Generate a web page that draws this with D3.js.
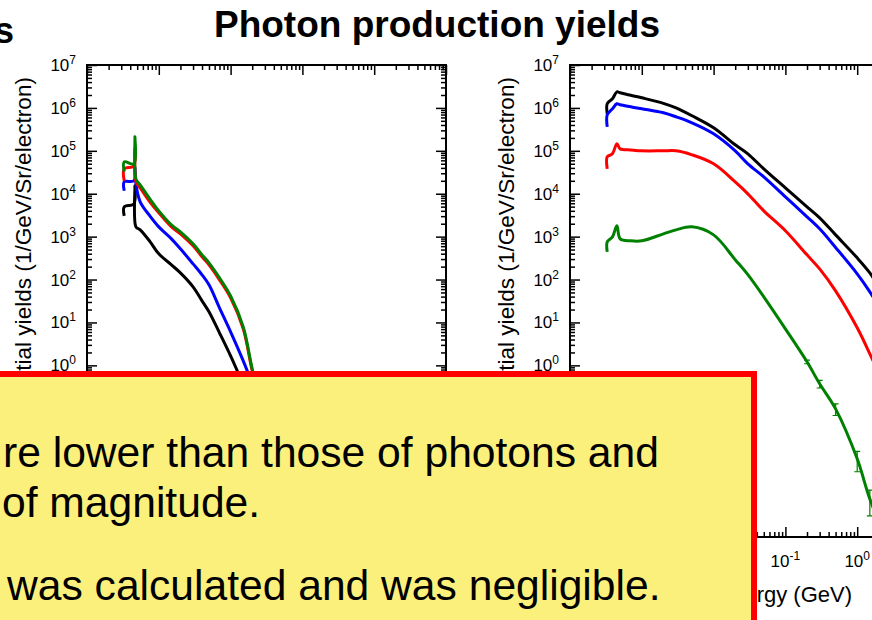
<!DOCTYPE html>
<html>
<head>
<meta charset="utf-8">
<script src="https://cdn.jsdelivr.net/npm/d3@7"></script>
<style>
    body { margin: 0; background: #fff; }
    svg { display: block; font-family: Arial, "Liberation Sans", sans-serif; }
</style>
</head>
<body>
<svg id="chart" width="872" height="620"></svg>
<script>
// ---- data ----
const xExponents = [-4, -3, -2, -1, 0, 1];
const yExponents = [-4, -3, -2, -1, 0, 1, 2, 3, 4, 5, 6, 7];

// left panel (GeV, 1/GeV/Sr/electron)
const leftEnergy = [3.3e-4, 3.3e-4, 4.5e-4, 4.65e-4, 4.8e-4, 5.5e-4, 7.5e-4, 1e-3, 1.5e-3, 2e-3, 3e-3, 4e-3, 5e-3, 7e-3, 1e-2, 1.5e-2, 2e-2, 3e-2];
const leftBlack = [3050, 4950, 5820, 15300, 1690, 1440, 777, 397, 220, 143, 67.6, 31.9, 17.7, 5.73, 1.66, 0.351, 0.108, 0.0194];
const leftBlue = [11700, 18900, 20000, 42400, 17000, 6470, 3050, 1690, 889, 520, 232, 129, 75.2, 21.9, 6.04, 1.27, 0.371, 0.0566];
const leftRed = [20000, 38000, 44700, 111000, 18900, 13700, 6470, 3590, 1690, 1160, 611, 338, 220, 98.4, 37.4, 7.1, 0.744, 0.0508];
const leftGreen = [32400, 55400, 49800, 212000, 22200, 16100, 7600, 3990, 1880, 1290, 679, 376, 245, 110, 41.7, 7.89, 0.83, 0.0566];

// right panel: photons
const photonEnergy = [3.3e-4, 3.3e-4, 3.9e-4, 4.5e-4, 5e-4, 7e-4, 1e-3, 2e-3, 3e-3, 5e-3, 1e-2, 2e-2, 3e-2, 5e-2, 0.1, 0.2, 0.3, 0.5, 1, 1.5, 2, 3, 5];
const photonBlack = [7.28e5, 1.25e6, 1.63e6, 2.37e6, 2.25e6, 1.97e6, 1.72e6, 1.28e6, 1.0e6, 6.55e5, 3.44e5, 1.38e5, 8.51e4, 3.8e4, 1.37e4, 4950, 2740, 1100, 320, 143, 67.6, 20.7, 3.17];
const photonBlue = [3.62e5, 6.9e5, 9.53e5, 1.25e6, 1.18e6, 1.06e6, 9.53e5, 7.69e5, 6.21e5, 4.5e5, 2.5e5, 1.0e5, 4.98e4, 2.48e4, 8470, 2900, 1520, 560, 136, 51.6, 23.1, 5.42, 0.633];
const photonRed = [3.8e4, 7.24e4, 8.51e4, 1.46e5, 1.11e5, 1.05e5, 1.0e5, 1.0e5, 1.0e5, 8.07e4, 4.98e4, 1.89e4, 9950, 3990, 1370, 376, 177, 54.5, 7.5, 1.85, 0.633, 0.0969, 0.00663];
const photonGreen = [442, 757, 989, 1790, 889, 798, 798, 1160, 1440, 1690, 1100, 290, 130, 39.5, 7.1, 1.21, 0.371, 0.0969, 0.00663, 7.73e-4, 2.64e-4, 1.55e-4, 1e-4];
const photonGreenErr = [0, 0, 0, 0, 0, 0, 0, 0, 0, 0, 0, 0, 0, 0, 0, 0.1, 0.2, 0.3, 0.5, 0.6, 0.7, 0.7, 0];

const colors = ["#000000", "#0000ff", "#ff0000", "#008000"];

const boxRight = 754, boxTop = 374;

let svg = d3.select("#chart");

function minorTicks(exps) {
    let out = [];
    exps.slice(0, -1).forEach(function(e) {
        for (let k = 2; k < 10; k++) out.push(k * Math.pow(10, e));
    });
    return out;
}

function supLabel(sel, exp) {
    sel.append("tspan").text("10");
    sel.append("tspan").attr("dy", -7).attr("font-size", 12).text(exp);
}

function drawPanel(id, x0, energy, series, xTitle) {
    let width = 359, top = 65, bottom = 537;
    let x = d3.scaleLog().domain([1e-4, 10]).range([x0, x0 + width]);
    let y = d3.scaleLog().domain([1e-4, 1e7]).range([bottom, top]);
    let g = svg.append("g");

    g.append("clipPath").attr("id", "clip-" + id)
        .append("rect").attr("x", x0).attr("y", top).attr("width", width).attr("height", bottom - top);

    let majorX = xExponents.map(e => Math.pow(10, e));
    let majorY = yExponents.map(e => Math.pow(10, e));

    // ticks on all four sides, pointing inwards
    let axes = [
        [d3.axisTop(x), `translate(0,${top})`, majorX, minorTicks(xExponents)],
        [d3.axisBottom(x), `translate(0,${bottom})`, majorX, minorTicks(xExponents)],
        [d3.axisLeft(y), `translate(${x0},0)`, majorY, minorTicks(yExponents)],
        [d3.axisRight(y), `translate(${x0 + width},0)`, majorY, minorTicks(yExponents)]
    ];
    axes.forEach(function(a) {
        let ax = g.append("g").attr("transform", a[1]);
        ax.append("g").call(a[0].tickValues(a[2]).tickSize(-10).tickSizeOuter(0).tickFormat(""));
        ax.append("g").call(a[0].tickValues(a[3]).tickSize(-5).tickSizeOuter(0).tickFormat(""));
        ax.selectAll(".domain").remove();
        ax.selectAll("line").attr("stroke", "#000").attr("stroke-width", 1.5);
    });

    g.append("rect")
        .attr("x", x0).attr("y", top).attr("width", width).attr("height", bottom - top)
        .attr("fill", "none").attr("stroke", "#000").attr("stroke-width", 2);

    // labels that would sit under the note box are not drawn
    yExponents.filter(e => y(Math.pow(10, e)) < boxTop).forEach(function(e) {
        g.append("text").attr("x", x0 - 11).attr("y", y(Math.pow(10, e)) + 6)
            .attr("text-anchor", "end").attr("font-size", 17)
            .call(supLabel, e);
    });
    xExponents.filter(e => x(Math.pow(10, e)) > boxRight + 12).forEach(function(e) {
        g.append("text").attr("x", x(Math.pow(10, e))).attr("y", 567)
            .attr("text-anchor", "middle").attr("font-size", 17)
            .call(supLabel, e);
    });

    g.append("text")
        .attr("transform", `translate(${x0 - 56},77) rotate(-90)`)
        .attr("text-anchor", "end").attr("font-size", 22.6)
        .text("Differential yields (1/GeV/Sr/electron)");

    if (x0 + 282 > boxRight) {
        g.append("text").attr("x", x0 + 282).attr("y", 602)
            .attr("text-anchor", "end").attr("font-size", 22)
            .text(xTitle);
    }

    let line = d3.line()
        .x((d, i) => x(energy[i]))
        .y(d => y(d))
        .curve(d3.curveCatmullRom.alpha(0.5));

    let plot = g.append("g").attr("clip-path", `url(#clip-${id})`);
    series.forEach(function(s, i) {
        plot.append("path")
            .attr("d", line(s.values))
            .attr("fill", "none")
            .attr("stroke", colors[i])
            .attr("stroke-width", 3)
            .attr("stroke-linejoin", "round");
        if (s.err) {
            s.err.forEach(function(err, j) {
                if (!err) return;
                let xe = x(energy[j]);
                let y1 = y(s.values[j] * (1 - err)), y2 = y(s.values[j] * (1 + err));
                plot.append("path")
                    .attr("d", `M${xe},${y1}V${y2}M${xe - 3},${y1}H${xe + 3}M${xe - 3},${y2}H${xe + 3}`)
                    .attr("stroke", colors[i]).attr("stroke-width", 1.2).attr("fill", "none");
            });
        }
    });
}

drawPanel("left", 87, leftEnergy, [
    { values: leftBlack }, { values: leftBlue }, { values: leftRed }, { values: leftGreen }
], "Neutron energy (GeV)");

drawPanel("right", 570, photonEnergy, [
    { values: photonBlack }, { values: photonBlue }, { values: photonRed }, { values: photonGreen, err: photonGreenErr }
], "Photon energy (GeV)");

// titles
svg.append("text").attr("x", 14).attr("y", 43)
    .attr("text-anchor", "end").attr("font-size", 36).attr("font-weight", "bold")
    .text("Neutron production yields");
svg.append("text").attr("x", 437).attr("y", 37)
    .attr("text-anchor", "middle").attr("font-size", 37).attr("font-weight", "bold")
    .text("Photon production yields");

// note box on top
svg.append("rect")
    .attr("x", -20).attr("y", boxTop).attr("width", boxRight + 20).attr("height", 300)
    .attr("fill", "#fbf07c").attr("stroke", "#ff0000").attr("stroke-width", 6);

let notes = [
    ["re lower than those of photons and", 3, 467],
    ["of magnitude.", 2, 517],
    ["was calculated and was negligible.", 7, 600]
];
notes.forEach(function(n) {
    svg.append("text").attr("x", n[1]).attr("y", n[2])
        .attr("font-size", 42.6).attr("fill", "#000")
        .text(n[0]);
});
</script>
</body>
</html>
